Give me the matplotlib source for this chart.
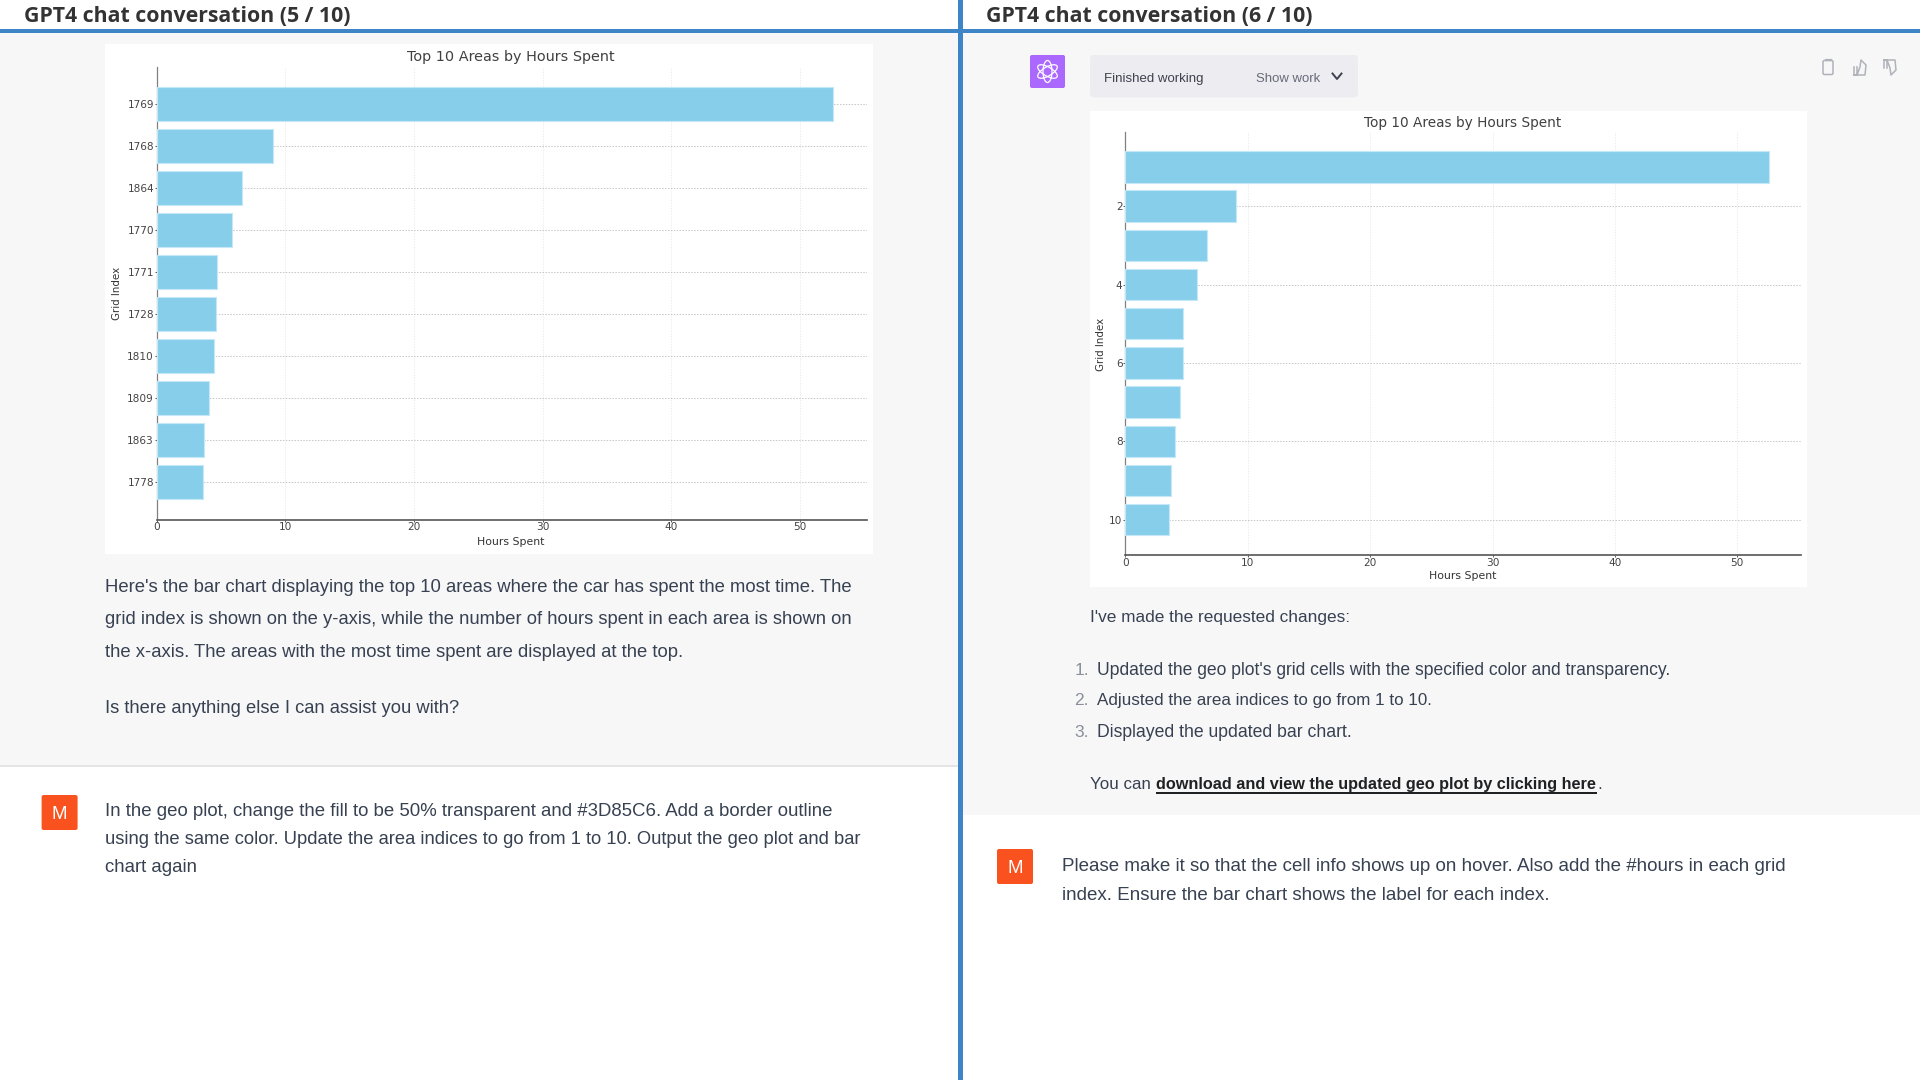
import matplotlib

matplotlib.use("Agg")
import matplotlib.pyplot as plt
from matplotlib.patches import Ellipse, FancyBboxPatch, Rectangle

W, H = 1920, 1080

# bar chart values
left_labels = ["1769", "1768", "1864", "1770", "1771", "1728", "1810", "1809", "1863", "1778"]
left_hours = [52.57, 9.05, 6.62, 5.86, 4.71, 4.62, 4.48, 4.05, 3.71, 3.62]
right_index = [1, 2, 3, 4, 5, 6, 7, 8, 9, 10]
right_hours = [52.6, 9.05, 6.7, 5.85, 4.75, 4.68, 4.5, 4.07, 3.75, 3.57]
x_ticks = [0, 10, 20, 30, 40, 50]
right_y_ticks = [2, 4, 6, 8, 10]

BLUE = "#3d85c6"
GRAY_BG = "#f7f7f8"
TEXT = "#374151"
BODY_FONT = "Liberation Sans"

fig = plt.figure(figsize=(W / 100, H / 100), dpi=100, facecolor="white")
bg = fig.add_axes([0, 0, 1, 1])
bg.set_xlim(0, W)
bg.set_ylim(H, 0)
bg.axis("off")
renderer = fig.canvas.get_renderer()


def put(x, y, s, width=None, size=12.5, color=TEXT, family=BODY_FONT, **kw):
    # y is the middle of the line, width the pixel width wanted (font size gets scaled to hit it)
    t = bg.text(x, y + 6, s, fontsize=size, color=color, family=family, va="baseline", **kw)
    if width:
        t.set_fontsize(size * width / t.get_window_extent(renderer).width)
    return t


def rect(x0, y0, x1, y1, color, z=1):
    bg.add_patch(Rectangle((x0, y0), x1 - x0, y1 - y0, fc=color, ec="none", zorder=z))


def draw_bars(box, title, ylim, ypos, hours, yticks, yticklabels, title_size, xlabel_pos, ylabel_pos):
    x0, y0, x1, y1, xmax = box
    ax = fig.add_axes([x0 / W, 1 - y1 / H, (x1 - x0) / W, (y1 - y0) / H])
    ax.patch.set_alpha(0)
    ax.barh(ypos, hours, height=0.8, color="#87ceeb", edgecolor="#c4e8f6", linewidth=0.8, zorder=3)
    ax.set_xlim(0, xmax)
    ax.set_ylim(*ylim)
    ax.set_xticks(x_ticks)
    ax.set_yticks(yticks)
    ax.set_yticklabels(yticklabels)
    ax.tick_params(labelsize=7.6, length=1.5, width=0.6, pad=0.5, colors="#444444")
    ax.grid(axis="y", ls=(0, (1.5, 1.5)), lw=0.7, color="#c6c6c6", zorder=0)
    ax.grid(axis="x", ls=(0, (2, 2)), lw=0.5, color="#e4e4e4", zorder=0)
    for side in ["top", "right"]:
        ax.spines[side].set_visible(False)
    ax.spines["left"].set_color("#808080")
    ax.spines["left"].set_linewidth(0.9)
    ax.spines["bottom"].set_color("#555555")
    ax.spines["bottom"].set_linewidth(1.2)
    bg.text(title[1], title[2], title[0], fontsize=title_size, color="#404040", ha="center", va="center", zorder=5)
    bg.text(xlabel_pos[0], xlabel_pos[1], "Hours Spent", fontsize=7.8, color="#333333", ha="center", va="center", zorder=5)
    bg.text(ylabel_pos[0], ylabel_pos[1], "Grid Index", fontsize=7.4, color="#333333", ha="center", va="center", rotation=90, zorder=5)


# panels
rect(0, 32, 958, 765, GRAY_BG)
rect(963, 32, W, 815, GRAY_BG)
rect(0, 765, 958, 767, "#e5e5e6")
rect(0, 29, W, 33, BLUE, 2)
rect(958, 0, 963, H, BLUE, 2)
rect(105, 44, 873, 554, "white", 2)
rect(1090, 111, 1807, 587, "white", 2)

put(24.5, 15.5, "GPT4 chat conversation (5 / 10)", width=327, size=16, color="#333333", family="Open Sans", weight="bold", zorder=5)
put(985.5, 15.5, "GPT4 chat conversation (6 / 10)", width=327, size=16, color="#333333", family="Open Sans", weight="bold", zorder=5)

draw_bars((156.8, 66.8, 866.5, 519.6, 55.2), ("Top 10 Areas by Hours Spent", 511, 57.4),
          (9.9, -0.88), list(range(10)), left_hours, list(range(10)), left_labels, 10.4, (511, 542), (117, 293.6))
draw_bars((1125.3, 132.4, 1801, 555, 55.2), ("Top 10 Areas by Hours Spent", 1463, 122.8),
          (10.9, 0.12), right_index, right_hours, right_y_ticks, right_y_ticks, 9.8, (1463, 575.6), (1100.5, 344))

# left column text
put(105, 586, "Here's the bar chart displaying the top 10 areas where the car has spent the most time. The", width=751)
put(105, 618, "grid index is shown on the y-axis, while the number of hours spent in each area is shown on", width=749)
put(105, 651, "the x-axis. The areas with the most time spent are displayed at the top.", width=582)
put(105, 707, "Is there anything else I can assist you with?", width=356)
put(105, 810, "In the geo plot, change the fill to be 50% transparent and #3D85C6. Add a border outline", width=733)
put(105, 838, "using the same color. Update the area indices to go from 1 to 10. Output the geo plot and bar", width=759)
put(105, 866, "chart again", width=93)

# right column text
put(1090, 616, "I've made the requested changes:", width=261)
put(1097, 669, "Updated the geo plot's grid cells with the specified color and transparency.", width=577)
put(1097, 699, "Adjusted the area indices to go from 1 to 10.", width=336)
put(1097, 731, "Displayed the updated bar chart.", width=255)
for num, yy in zip(["1.", "2.", "3."], [669, 699, 731]):
    put(1089, yy, num, size=12.5, color="#8a8f99", ha="right")
put(1090, 783, "You can", width=61)
put(1156, 783, "download and view the updated geo plot by clicking here", width=441, color="#202123", weight="bold")
put(1597, 783, ".")
rect(1156, 792, 1597, 793.5, "#202123", 3)
put(1061.6, 865, "Please make it so that the cell info shows up on hover. Also add the #hours in each grid", width=729)
put(1061.6, 894, "index. Ensure the bar chart shows the label for each index.", width=489)

# user avatars
for ax0, ay0 in [(41.6, 795), (997, 849)]:
    bg.add_patch(FancyBboxPatch((ax0 + 1, ay0 + 1), 34, 33, boxstyle="round,pad=1,rounding_size=2", fc="#f9521e", ec="none", zorder=3))
    put(ax0 + 18, ay0 + 18, "M", size=13.5, color="white", ha="center", family="Liberation Sans", zorder=4)

# assistant logo and status box
bg.add_patch(FancyBboxPatch((1031, 56), 33, 31, boxstyle="round,pad=1,rounding_size=2", fc="#ab68ff", ec="none", zorder=3))
for angle in [0, 60, 120]:
    bg.add_patch(Ellipse((1047.5, 71.5), 9, 22, angle=angle, fc="none", ec="white", lw=0.9, zorder=4))
bg.add_patch(FancyBboxPatch((1093, 58), 262, 36.5, boxstyle="round,pad=3,rounding_size=4", fc="#ececf1", ec="none", zorder=3))
put(1104, 76, "Finished working", width=100, size=9.5, color="#40414f", zorder=4)
put(1256, 76, "Show work", width=64, size=9.5, color="#666b78", zorder=4)
bg.plot([1332.5, 1337, 1341.5], [73.5, 79, 73.5], color="#40414f", lw=1.4, zorder=4)

# clipboard and thumbs icons
ICON = "#b0b3ba"
bg.add_patch(FancyBboxPatch((1823.5, 61), 9, 13, boxstyle="round,pad=0.5,rounding_size=1.5", fc="none", ec=ICON, lw=1.1, zorder=3))
bg.plot([1825.5, 1830.5], [60, 60], color=ICON, lw=1.6, zorder=3)
bg.plot([1854, 1854, 1857, 1860, 1861, 1861, 1866, 1865, 1857, 1854, 1857, 1857],
        [67, 75, 75, 67, 60, 60, 65, 75, 75, 75, 75, 67], color=ICON, lw=1.1, zorder=3)
bg.plot([1884, 1884, 1887, 1890, 1891, 1891, 1896, 1895, 1887, 1884, 1887, 1887],
        [68, 60, 60, 68, 75, 75, 70, 60, 60, 60, 60, 68], color=ICON, lw=1.1, zorder=3)

fig.savefig("out.png", dpi=100)
